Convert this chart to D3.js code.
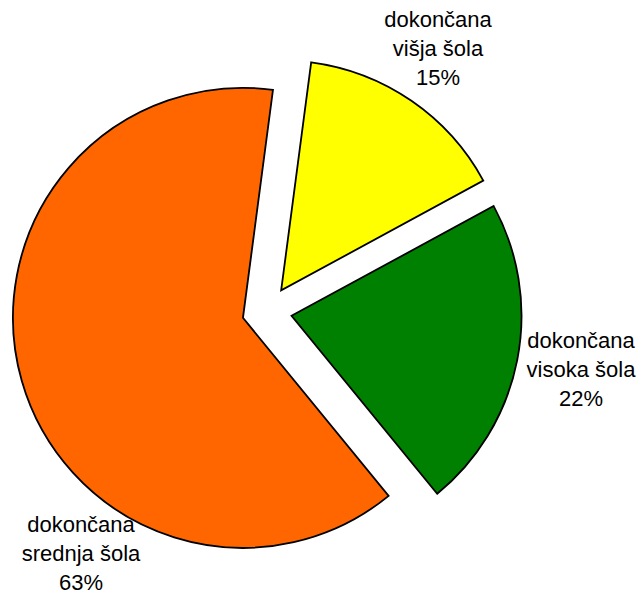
<!DOCTYPE html>
<html><head><meta charset="utf-8">
<script src="https://cdn.jsdelivr.net/npm/d3@7"></script>
<style>html,body{margin:0;padding:0;background:#fff;}svg{display:block;}</style>
</head><body>
<script>
const categories = ["dokončana višja šola", "dokončana visoka šola", "dokončana srednja šola"];
const labelLines = [["dokončana","višja šola"],["dokončana","visoka šola"],["dokončana","srednja šola"]];
const values = [15, 22, 63];
const colors = ["#FFFF00", "#008000", "#FF6600"];
// label anchor positions (layout)
const labelPos = [[438, 27], [581, 348], [81, 532]];

const W = 637, H = 596;
const cx = 267, cy = 311, R = 230, explode = 25;
const svg = d3.select("body").append("svg").attr("width", W).attr("height", H);
const start = 7.5 * Math.PI / 180;
const pie = d3.pie().sort(null).value(d => d).startAngle(start).endAngle(start + 2 * Math.PI);
const arcs = pie(values);
const arc = d3.arc().innerRadius(0).outerRadius(R);
const g = svg.append("g").attr("transform", `translate(${cx},${cy})`);
g.selectAll("path").data(arcs).join("path")
  .attr("d", arc)
  .attr("fill", (d, i) => colors[i])
  .attr("stroke", "#000").attr("stroke-width", 1.8).attr("stroke-linejoin", "miter")
  .attr("transform", d => {
    const a = (d.startAngle + d.endAngle) / 2;
    return `translate(${explode * Math.sin(a)},${-explode * Math.cos(a)})`;
  });
const lab = svg.append("g");
arcs.forEach((d, i) => {
  const t = lab.append("text").attr("text-anchor", "middle")
    .attr("font-family", "Liberation Sans, Arial, sans-serif").attr("font-size", 22).attr("fill", "#000");
  const lines = labelLines[i].concat([values[i] + "%"]);
  lines.forEach((s, k) => {
    t.append("tspan").attr("x", labelPos[i][0]).attr("y", labelPos[i][1] + k * 29).text(s);
  });
});
</script>
</body></html>
